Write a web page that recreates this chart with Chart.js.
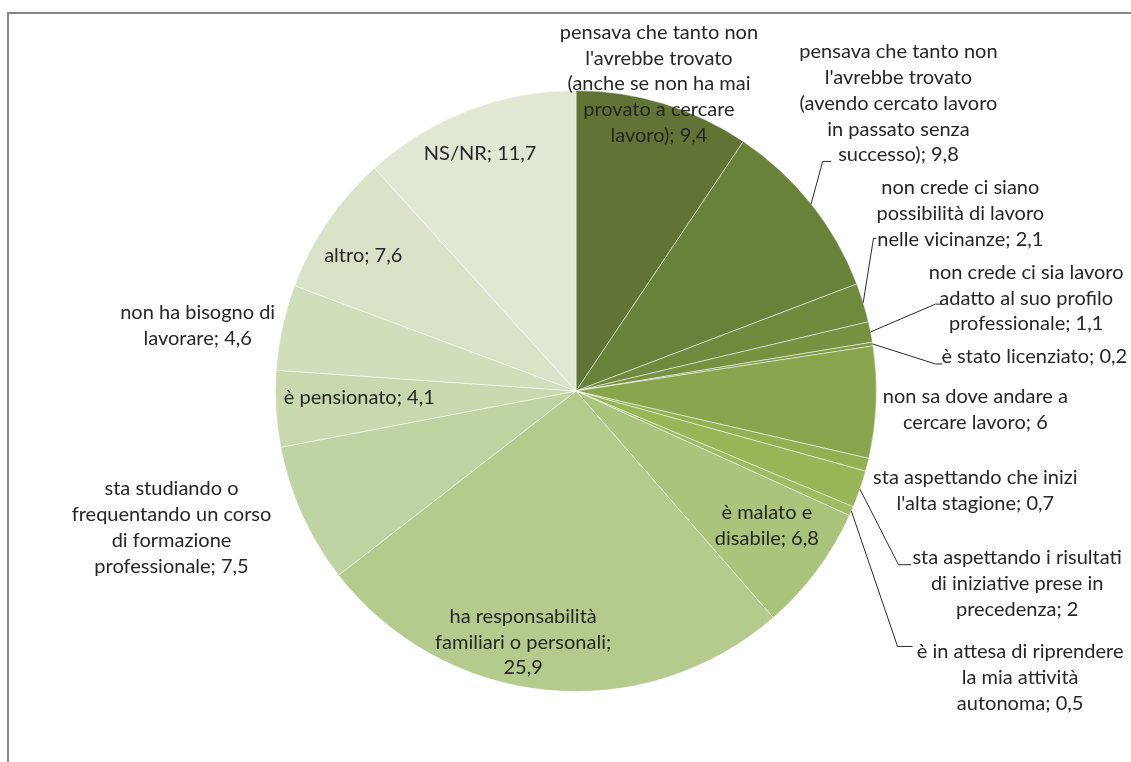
<!DOCTYPE html>
<html>
<head>
<meta charset="utf-8">
<script src="https://cdn.jsdelivr.net/npm/chart.js@4/dist/chart.umd.min.js"></script>
<style>
  html, body { margin: 0; padding: 0; background: #fff; }
  #wrap { width: 1131px; height: 762px; position: relative; }
</style>
</head>
<body>
<div id="wrap"><canvas id="myChart" width="1131" height="762"></canvas></div>
<script>
// categories (line breaks as in the original labels)
const categories = [
  "pensava che tanto non\nl'avrebbe trovato\n(anche se non ha mai\nprovato a cercare\nlavoro)",
  "pensava che tanto non\nl'avrebbe trovato\n(avendo cercato lavoro\nin passato senza\nsuccesso)",
  "non crede ci siano\npossibilità di lavoro\nnelle vicinanze",
  "non crede ci sia lavoro\nadatto al suo profilo\nprofessionale",
  "è stato licenziato",
  "non sa dove andare a\ncercare lavoro",
  "sta aspettando che inizi\nl'alta stagione",
  "sta aspettando i risultati\ndi iniziative prese in\nprecedenza",
  "è in attesa di riprendere\nla mia attività\nautonoma",
  "è malato e\ndisabile",
  "ha responsabilità\nfamiliari o personali",
  "sta studiando o\nfrequentando un corso\ndi formazione\nprofessionale",
  "è pensionato",
  "non ha bisogno di\nlavorare",
  "altro",
  "NS/NR"
];
const values = [9.4, 9.8, 2.1, 1.1, 0.2, 6, 0.7, 2, 0.5, 6.8, 25.9, 7.5, 4.1, 4.6, 7.6, 11.7];
// label where the value is wrapped to its own line
const valueOnOwnLine = [10];

const colors = [
  "#617435", "#69823a", "#6f893d", "#769140", "#7d9944", "#89a64e",
  "#93b153", "#98b657", "#9fbb62", "#aac47c", "#b5cb8e", "#c0d3a2",
  "#c8d8af", "#d0debb", "#d8e3c8", "#e0e8d4"
];

// label placement, in units of the pie radius from its centre
const labelX = [0.276, 1.073, 1.279, 1.498, 1.525, 1.329, 1.329, 1.468, 1.478, 0.635, -0.176, -1.346, -0.721, -1.259, -0.708, -0.319];
const labelY = [-1.022, -0.957, -0.591, -0.309, -0.113, 0.061, 0.331, 0.641, 0.953, 0.449, 0.836, 0.455, 0.023, -0.218, -0.452, -0.791];
// leader lines: index -> [elbowX, elbowY, endX] in radius units
const leaders = {
  1: [0.821, -0.764, 0.850],
  2: [0.990, -0.508, 1.000],
  3: [1.196, -0.289, 1.219],
  4: [1.196, -0.090, 1.219],
  7: [1.073, 0.578, 1.116],
  8: [1.070, 0.850, 1.120]
};

const fmt = v => String(v).replace('.', ',');

// frame around the chart area (cropped at right/bottom like the original)
const framePlugin = {
  id: 'frame',
  beforeDraw(chart) {
    const ctx = chart.ctx;
    ctx.save();
    ctx.strokeStyle = '#878787';
    ctx.lineWidth = 2;
    ctx.beginPath();
    ctx.moveTo(8, 762);
    ctx.lineTo(8, 13);
    ctx.lineTo(1131, 13);
    ctx.stroke();
    ctx.restore();
  }
};

// data labels with leader lines
const labelPlugin = {
  id: 'pieLabels',
  afterDatasetsDraw(chart) {
    const ctx = chart.ctx;
    const meta = chart.getDatasetMeta(0);
    const lineH = 25.8;
    ctx.save();
    ctx.font = '20px Lato, "Open Sans", sans-serif';
    ctx.fillStyle = '#262626';
    ctx.textAlign = 'center';
    ctx.textBaseline = 'middle';
    meta.data.forEach((arc, i) => {
      const p = arc.getProps(['x', 'y', 'startAngle', 'endAngle', 'outerRadius'], true);
      const R = p.outerRadius;
      const sep = valueOnOwnLine.includes(i) ? ';\n' : '; ';
      const lines = (categories[i] + sep + fmt(values[i])).split('\n');
      const cx = p.x + labelX[i] * R;
      const cy = p.y + labelY[i] * R;
      lines.forEach((t, k) => {
        ctx.fillText(t, cx, cy + (k - (lines.length - 1) / 2) * lineH);
      });
      const ld = leaders[i];
      if (ld) {
        const mid = (p.startAngle + p.endAngle) / 2;
        const ex = p.x + Math.cos(mid) * R;
        const ey = p.y + Math.sin(mid) * R;
        ctx.strokeStyle = '#2a2a2a';
        ctx.lineWidth = 1;
        ctx.beginPath();
        ctx.moveTo(ex, ey);
        ctx.lineTo(p.x + ld[0] * R, p.y + ld[1] * R);
        ctx.lineTo(p.x + ld[2] * R, p.y + ld[1] * R);
        ctx.stroke();
      }
    });
    ctx.restore();
  }
};

new Chart(document.getElementById('myChart').getContext('2d'), {
  type: 'pie',
  data: {
    labels: categories,
    datasets: [{
      data: values,
      backgroundColor: colors,
      borderColor: 'rgba(255,255,255,0.5)',
      borderWidth: 1
    }]
  },
  options: {
    responsive: false,
    animation: false,
    layout: { padding: { left: 275, right: 254, top: 90, bottom: 70 } },
    plugins: {
      legend: { display: false },
      tooltip: { enabled: false }
    }
  },
  plugins: [framePlugin, labelPlugin]
});
</script>
</body>
</html>
